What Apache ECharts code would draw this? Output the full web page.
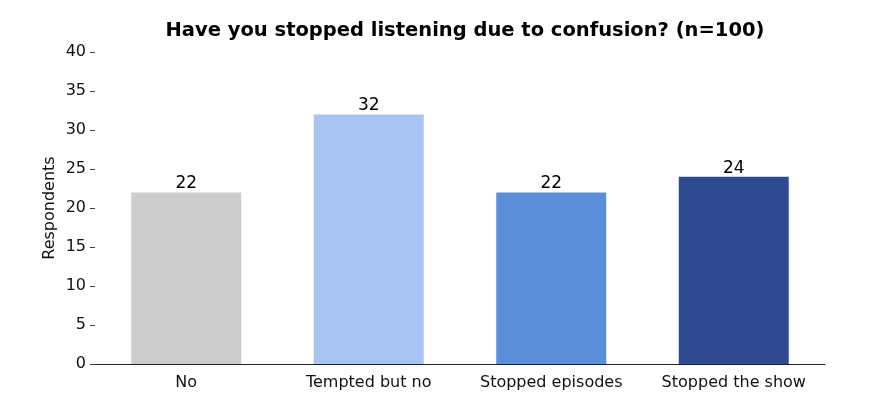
<!DOCTYPE html>
<html>
<head>
<meta charset="utf-8">
<script src="https://cdn.jsdelivr.net/npm/echarts@6/dist/echarts.min.js"></script>
<style>
html, body { margin: 0; padding: 0; background: #fff; }
#main { width: 880px; height: 416px; }
</style>
</head>
<body>
<div id="main"></div>
<script>
var categories = ['No', 'Tempted but no', 'Stopped episodes', 'Stopped the show'];
var respondents = [22, 32, 22, 24];
var barColors = ['#cccccc', '#a8c4f1', '#5b8ed8', '#2e4b8f'];
var yTicks = [0, 5, 10, 15, 20, 25, 30, 35, 40];

var myChart = echarts.init(document.getElementById('main'));

var option = {
	backgroundColor: '#ffffff',
	textStyle: { fontFamily: 'DejaVu Sans' },
	title: {
		text: 'Have you stopped listening due to confusion? (n=100)',
		left: 460,
		top: 16,
		textAlign: 'center',
		textStyle: { fontSize: 19.5, fontWeight: 'bold', color: '#000', fontFamily: 'DejaVu Sans' }
	},
	grid: { left: 95, right: 55, top: 52, bottom: 52, containLabel: false },
	xAxis: {
		type: 'category',
		data: categories,
		axisLine: { show: true, lineStyle: { color: '#222', width: 1.2 } },
		axisTick: { show: false },
		axisLabel: { color: '#111', fontSize: 16, margin: 11, interval: 0 }
	},
	yAxis: {
		type: 'value',
		min: yTicks[0],
		max: yTicks[yTicks.length - 1],
		interval: 5,
		name: 'Respondents',
		nameLocation: 'middle',
		nameGap: 37,
		nameMoveOverlap: false,
		nameTextStyle: { color: '#111', fontSize: 16 },
		axisLine: { show: false },
		axisTick: { show: true, length: 5, lineStyle: { color: '#444' } },
		axisLabel: { color: '#111', fontSize: 16, margin: 9, padding: [3, 0, 0, 0] },
		splitLine: { show: false }
	},
	series: [{
		type: 'bar',
		barWidth: 110,
		data: respondents.map(function (v, i) {
			return { value: v, itemStyle: { color: barColors[i] } };
		}),
		label: {
			show: true,
			position: 'top',
			distance: 0,
			color: '#000',
			fontSize: 17
		}
	}]
};
myChart.setOption(option);
</script>
</body>
</html>
